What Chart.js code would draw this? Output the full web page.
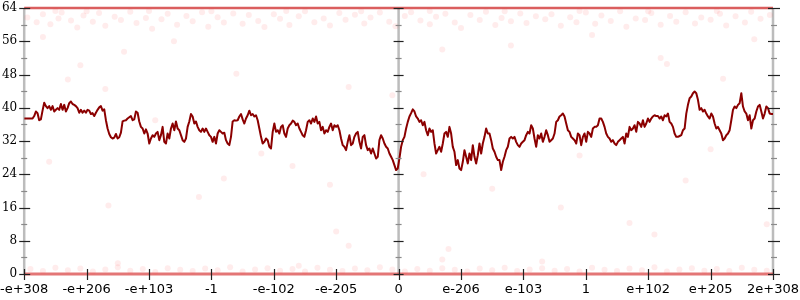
<!DOCTYPE html>
<html><head><meta charset="utf-8">
<script src="https://cdn.jsdelivr.net/npm/chart.js@4/dist/chart.umd.min.js"></script>
<style>html,body{margin:0;padding:0;background:#fff;overflow:hidden}#wrap{width:800px;height:300px}</style>
</head><body><div id="wrap"><canvas id="c"></canvas></div>
<script>
const xTickLabels = ["-e+308","-e+206","-e+103","-1","-e-102","-e-205","0","e-206","e-103","1","e+102","e+205","2e+308"];
const yRange = [0, 64];
const yStep = 8;

const lineValues = [
37.4,37.4,37.4,37.4,37.4,37.4,38.0,39.1,38.7,37.0,
37.2,39.3,41.2,40.4,39.9,40.4,39.5,40.4,39.1,39.5,
39.9,39.5,40.9,39.5,40.7,39.1,39.9,41.1,41.5,40.9,
40.7,40.4,39.9,38.8,39.5,38.8,39.3,38.8,39.5,39.3,
38.5,38.7,38.0,38.8,39.5,40.1,40.4,39.3,39.6,37.0,
35.0,33.7,32.9,32.6,32.8,33.7,32.6,32.9,34.0,36.7,
36.9,37.0,37.4,37.7,38.0,37.0,37.2,39.1,38.8,36.7,
35.4,35.0,33.8,34.8,33.8,31.4,32.6,33.4,33.0,33.8,
34.2,32.2,33.4,35.4,31.8,31.4,33.8,32.6,35.0,36.2,
34.6,36.7,35.0,34.6,33.4,32.2,31.8,32.6,35.4,36.7,
38.5,37.9,36.2,36.7,35.4,34.6,34.2,35.0,34.2,35.0,
34.2,33.4,33.0,31.8,33.0,31.4,33.8,34.6,34.2,33.8,
34.0,32.2,31.4,31.0,33.0,36.7,37.0,36.9,37.0,37.9,
38.5,37.2,36.2,37.4,38.2,39.3,38.2,38.5,37.9,38.2,
37.0,35.0,33.0,31.4,31.8,32.6,32.2,30.6,
30.2,34.2,36.2,34.2,34.6,33.8,35.4,35.8,33.8,33.0,
35.0,35.8,36.2,36.9,36.6,35.8,36.2,35.0,34.2,33.4,
33.0,34.6,36.6,37.0,36.2,37.4,36.6,37.9,36.2,36.6,
34.6,35.4,33.8,34.6,34.2,35.4,36.2,34.6,35.8,35.4,
35.8,34.6,32.6,31.0,30.6,29.8,31.8,33.4,31.0,31.4,
33.0,33.8,34.2,31.8,30.2,33.0,33.4,31.0,29.8,30.2,
29.0,30.2,29.0,27.8,28.2,32.2,33.4,32.6,31.4,30.6,
30.2,29.0,28.2,27.4,26.2,25.0,25.4,27.8,30.6,32.2,
33.0,35.0,36.6,37.9,38.7,39.6,39.1,37.9,37.4,36.6,
37.0,35.8,36.6,34.6,33.4,35.0,34.2,34.6,31.4,29.0,
29.8,30.6,29.4,31.4,33.8,34.2,33.0,35.4,33.8,30.6,
29.4,26.2,27.4,25.4,25.0,27.0,29.8,28.2,26.6,29.0,
27.4,31.0,28.2,26.6,28.6,31.4,29.0,31.4,33.0,35.0,
33.8,33.8,32.2,30.2,29.4,28.2,27.4,27.4,25.0,27.0,
28.2,29.8,30.6,32.6,33.0,32.6,33.0,31.8,31.0,30.6,
31.4,31.8,32.2,33.4,34.2,33.8,35.8,35.0,32.6,30.6,
33.4,32.6,33.8,31.8,33.0,34.6,33.4,31.8,32.2,32.6,
33.8,36.6,37.0,37.9,38.2,38.6,37.9,36.2,34.6,34.2,
33.0,32.6,32.2,31.4,33.8,33.4,31.0,33.0,33.8,31.8,
34.2,33.8,33.0,35.0,35.4,35.4,35.8,37.4,37.4,36.6,
35.4,33.8,33.0,32.6,31.8,32.2,31.4,31.0,31.8,32.2,
32.6,33.0,31.4,33.8,33.0,35.4,34.6,35.0,35.8,34.2,
36.6,36.2,35.4,37.0,35.4,36.2,37.4,36.6,37.4,37.9,
38.2,38.0,38.0,37.4,37.9,37.0,38.2,37.9,38.6,36.6,
36.2,35.4,33.8,33.0,33.0,33.2,33.4,34.6,35.0,38.6,
40.7,42.3,42.7,43.5,43.9,43.5,41.9,39.5,39.9,39.1,
39.5,38.6,37.9,37.4,38.6,37.9,36.2,35.0,35.4,34.6,
33.8,32.2,32.6,33.4,33.8,34.6,37.0,39.5,40.3,39.9,
40.7,41.1,43.5,40.3,39.1,38.6,37.0,38.2,35.0,37.0,
37.4,39.1,40.3,40.7,39.1,37.4,38.6,40.3,39.9,38.6,
38.5,38.5
];

const topBandPoints = [
[0.05,61.7],[0.2,60.6],[0.3,62.5],[0.42,60.1],[0.55,61.5],[0.6,62.9],[0.75,61.0],[0.85,59.3],[0.95,62.2],[1.1,60.7],
[1.2,62.8],[1.3,59.7],[1.45,61.9],[1.55,61.1],[1.7,63.1],[1.8,60.4],[1.95,61.6],[2.05,59.0],[2.2,61.3],[2.3,62.6],
[2.45,60.0],[2.6,62.1],[2.7,60.8],[2.85,63.0],[2.95,59.5],[3.1,61.8],[3.2,60.5],[3.35,62.7],[3.5,60.2],[3.6,62.3],
[3.75,60.9],[3.85,59.4],[4.0,62.5],[4.1,61.4],[4.25,59.9],[4.4,62.0],[4.5,63.2],[4.65,60.6],[4.8,61.5],[4.9,59.8],
[5.05,62.8],[5.15,61.2],[5.3,62.4],[5.45,60.3],[5.55,61.7],[5.7,62.9],[5.85,60.7],[5.95,59.6],[6.1,62.1],[6.2,63.0],
[6.35,61.0],[6.5,60.1],[6.6,61.9],[6.75,62.6],[6.9,60.5],[7.0,59.2],[7.15,62.3],[7.3,61.1],[7.4,63.1],[7.55,59.9],
[7.65,61.6],[7.8,60.8],[7.95,62.7],[8.05,60.4],[8.2,62.0],[8.35,61.3],[8.45,62.5],[8.6,59.7],[8.75,61.8],[8.85,60.6],
[9.0,62.9],[9.15,60.2],[9.25,62.2],[9.4,60.9],[9.55,63.2],[9.65,59.5],[9.8,61.5],[9.95,61.1],[10.05,62.8],[10.2,60.0],
[10.35,62.1],[10.45,60.7],[10.6,63.0],[10.75,60.3],[10.85,61.7],[11.0,61.2],[11.15,62.6],[11.25,59.8],[11.4,62.0],[11.55,60.5],
[11.65,63.1],[11.8,61.4],[11.95,62.3],[0.5,63.3],[1.0,63.2],[2.0,63.3],[3.0,63.2],[4.2,63.3],[5.4,63.2],[6.5,63.3],
[7.7,63.2],[8.9,63.3],[10.0,63.2],[11.1,63.3]
];
const bottomBandPoints = [
[0.1,1.2],[0.3,0.7],[0.5,1.5],[0.7,0.9],[0.9,1.3],[1.1,0.6],[1.3,1.1],[1.5,1.6],[1.7,0.8],[1.9,1.2],
[2.1,0.5],[2.3,1.4],[2.5,1.0],[2.7,0.7],[2.9,1.3],[3.1,0.9],[3.3,1.6],[3.5,0.6],[3.7,1.1],[3.9,1.4],
[4.1,0.8],[4.3,1.2],[4.5,0.6],[4.7,1.5],[4.9,1.0],[5.1,0.7],[5.3,1.3],[5.5,0.9],[5.7,1.6],[5.9,1.1],
[6.1,0.6],[6.3,1.2],[6.5,0.8],[6.7,1.4],[6.9,1.0],[7.1,0.6],[7.3,1.3],[7.5,0.9],[7.7,1.5],[7.9,0.7],
[8.1,1.1],[8.3,1.4],[8.5,0.8],[8.7,1.2],[8.9,0.6],[9.1,1.5],[9.3,1.0],[9.5,0.7],[9.7,1.3],[9.9,0.9],
[10.1,1.6],[10.3,0.6],[10.5,1.1],[10.7,1.4],[10.9,0.8],[11.1,1.2],[11.3,0.7],[11.5,1.5],[11.7,1.0],[11.9,0.8]
];
const sparsePoints = [
[0.9,50.2],[1.6,53.5],[0.7,46.8],[1.3,44.5],[3.4,48.2],[5.2,45.0],[7.8,55.0],[10.3,50.5],[11.2,47.0],[2.4,56.0],
[9.1,57.5],[0.3,57.0],[6.7,54.0],[11.7,56.5],[10.2,52.0],[1.35,16.5],[2.8,18.5],[5.0,10.2],[5.2,6.8],[1.5,2.6],
[6.8,6.0],[6.7,3.5],[10.1,9.5],[9.7,12.3],[11.9,12.0],[4.4,2.0],[8.3,3.0],[3.2,23.0],[7.5,20.5],[10.6,22.5],
[0.4,27.0],[4.3,26.0],[8.9,28.5],[2.1,37.0],[5.9,43.0],[11.0,30.0],[3.8,29.0],[4.9,21.5],[6.4,24.0],[8.6,16.0]
];
const edgeValues = [0, 64];

const toXY = a => a.map(p => ({x: p[0], y: p[1]}));
const lineData = lineValues.map((v, i) => ({x: i * (xTickLabels.length - 1) / (lineValues.length - 1), y: v}));
const dotStyle = {type:'line', showLine:false, pointRadius:3, pointBorderWidth:0, pointBackgroundColor:'rgba(255,70,70,0.1)', clip:false};

const axesPlugin = {
  id: 'axesPlugin',
  beforeDatasetsDraw(chart) {
    const {ctx, chartArea: a, scales: {x}} = chart;
    ctx.save();
    ctx.strokeStyle = '#bcbcbc';
    ctx.lineWidth = 2.5;
    [a.left, x.getPixelForValue(6), a.right].forEach(px => {
      ctx.beginPath(); ctx.moveTo(px, a.top); ctx.lineTo(px, a.bottom); ctx.stroke();
    });
    ctx.restore();
  },
  afterDatasetsDraw(chart) {
    const {ctx, chartArea: a, scales: {x, y}} = chart;
    const cx = x.getPixelForValue(6);
    ctx.save();
    const vals = y.ticks.map(t => t.value);
    const minors = [];
    for (let i = 0; i < vals.length - 1; i++) minors.push((vals[i] + vals[i + 1]) / 2);
    ctx.lineWidth = 1.2;
    ctx.strokeStyle = '#8a8a8a';
    minors.forEach(v => {
      const py = Math.round(y.getPixelForValue(v)) + 0.5;
      [[a.left - 3, a.left + 3], [cx - 3, cx + 3], [a.right - 2, a.right + 4]].forEach(s => {
        ctx.beginPath(); ctx.moveTo(s[0], py); ctx.lineTo(s[1], py); ctx.stroke();
      });
    });
    ctx.strokeStyle = '#222';
    vals.forEach(v => {
      const py = Math.round(y.getPixelForValue(v)) + 0.5;
      [[a.left - 5, a.left + 6], [cx - 5, cx + 5], [a.right - 5, a.right + 7]].forEach(s => {
        ctx.beginPath(); ctx.moveTo(s[0], py); ctx.lineTo(s[1], py); ctx.stroke();
      });
    });
    x.ticks.forEach(t => {
      const px = Math.round(x.getPixelForValue(t.value)) + 0.5;
      ctx.beginPath(); ctx.moveTo(px, a.bottom - 5); ctx.lineTo(px, a.bottom + 6); ctx.stroke();
    });
    ctx.restore();
  }
};

new Chart(document.getElementById('c'), {
  type: 'line',
  data: {
    datasets: [
      {data: lineData, borderColor: '#8b0000', borderWidth: 2, pointRadius: 0, tension: 0, borderJoinStyle: 'round', fill: false},
      Object.assign({data: toXY(sparsePoints)}, dotStyle),
      Object.assign({data: toXY(topBandPoints)}, dotStyle),
      Object.assign({data: toXY(bottomBandPoints)}, dotStyle),
      {data: [{x: 0, y: edgeValues[1]}, {x: 12, y: edgeValues[1]}], borderColor: 'rgba(205,40,40,0.75)', borderWidth: 2.5, pointRadius: 0, clip: false},
      {data: [{x: 0, y: edgeValues[0]}, {x: 12, y: edgeValues[0]}], borderColor: 'rgba(215,60,60,0.7)', borderWidth: 3, pointRadius: 0, clip: false}
    ]
  },
  options: {
    responsive: true, maintainAspectRatio: false, animation: false,
    layout: {autoPadding: false, padding: {top: 8, right: 27, left: 0, bottom: 0}},
    plugins: {legend: {display: false}, tooltip: {enabled: false}},
    scales: {
      x: {
        type: 'linear', min: 0, max: xTickLabels.length - 1,
        grid: {display: false, drawTicks: true, tickLength: 8}, border: {display: false},
        afterFit: s => { s.height = 26; },
        ticks: {stepSize: 1, autoSkip: false, maxRotation: 0, padding: 0, color: '#000',
          font: {family: 'DejaVu Sans', size: 13},
          callback: v => xTickLabels[v] !== undefined ? xTickLabels[v] : ''}
      },
      y: {
        min: yRange[0], max: yRange[1],
        grid: {display: false, drawTicks: true, tickLength: 7}, border: {display: false},
        afterFit: s => { s.width = 24; },
        ticks: {stepSize: yStep, padding: 0, color: '#000', font: {family: 'DejaVu Serif', size: 12}}
      }
    }
  },
  plugins: [axesPlugin]
});
</script></body></html>
